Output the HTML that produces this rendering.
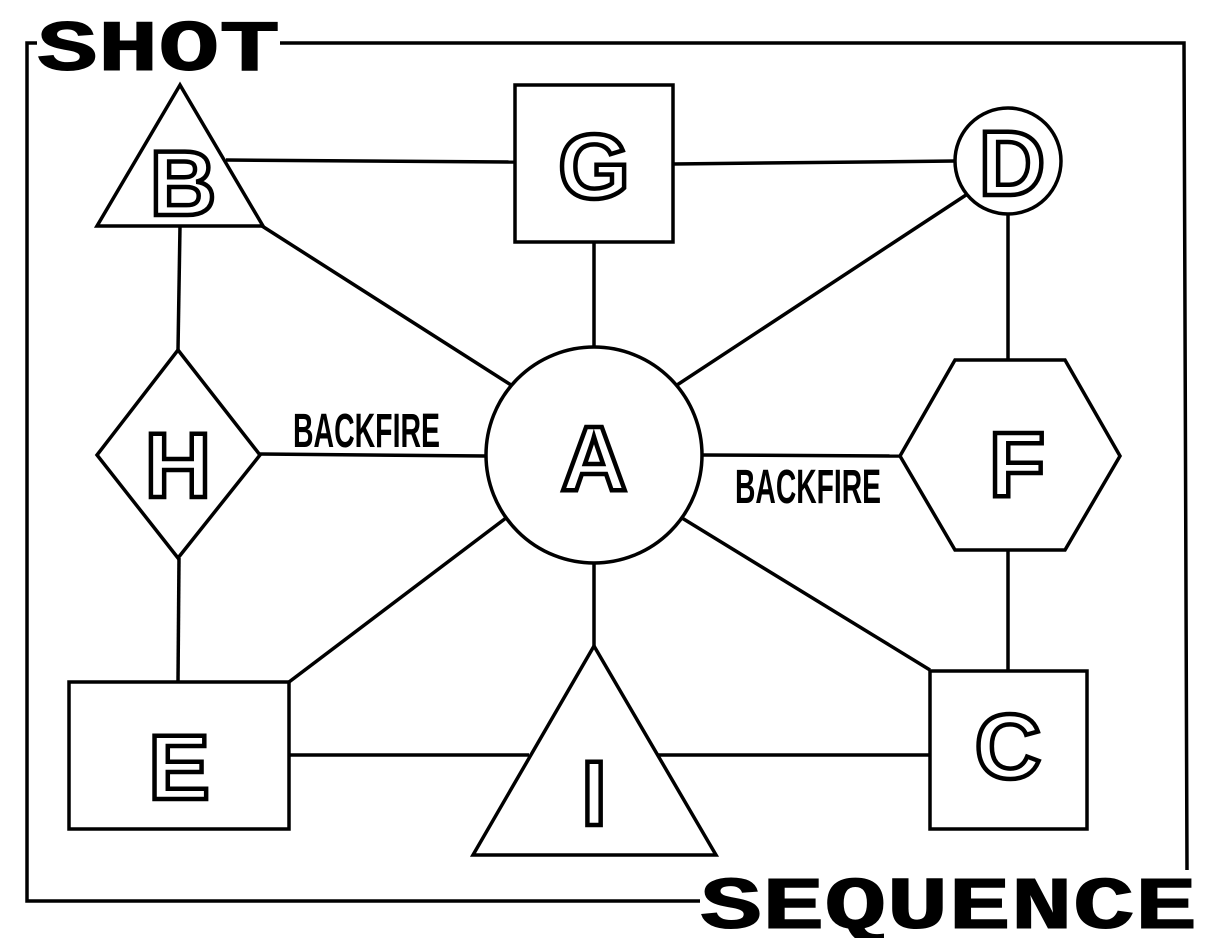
<!DOCTYPE html>
<html><head><meta charset="utf-8"><style>
html,body{margin:0;padding:0;background:#fff;}
svg{display:block}
.l{font-family:"Liberation Sans",sans-serif;font-weight:bold;font-size:92px;fill:#fff;stroke:#000;stroke-width:4.5;text-anchor:middle}
.bf{font-family:"Liberation Sans Narrow","Liberation Sans",sans-serif;font-weight:bold;font-size:48px;fill:#000}
.t{font-family:"Liberation Mono","Liberation Sans",sans-serif;font-weight:bold;fill:#000;stroke:#000;stroke-width:1}
</style></head><body>
<svg width="1214" height="938" viewBox="0 0 1214 938" xmlns="http://www.w3.org/2000/svg">
<g fill="none" stroke="#000" stroke-width="3.5">
<polyline points="280,43 1184,43 1187,870"/>
<polyline points="37,43 27,43 27,901 700,901"/>
<line x1="226" y1="160" x2="515" y2="162"/>
<line x1="673" y1="164" x2="955" y2="161"/>
<line x1="180" y1="226" x2="178" y2="350"/>
<line x1="262" y1="226" x2="511" y2="385"/>
<line x1="594" y1="242" x2="594" y2="348"/>
<line x1="966" y1="195" x2="677" y2="385"/>
<line x1="1008" y1="214" x2="1008" y2="360"/>
<line x1="260" y1="454" x2="486" y2="456"/>
<line x1="702" y1="455" x2="900" y2="456"/>
<line x1="179" y1="558" x2="178" y2="682"/>
<line x1="506" y1="518" x2="289" y2="682"/>
<line x1="594" y1="563" x2="594" y2="646"/>
<line x1="682" y1="518" x2="930" y2="670"/>
<line x1="1008" y1="550" x2="1008" y2="671"/>
<line x1="289" y1="755" x2="529" y2="755"/>
<line x1="657" y1="755" x2="930" y2="755"/>
</g>
<g fill="#fff" stroke="#000" stroke-width="3.5">
<polygon points="180,85 97,226 263,226"/>
<rect x="515" y="85" width="158" height="157"/>
<circle cx="1008" cy="161" r="53"/>
<circle cx="594" cy="455" r="108"/>
<polygon points="178,350 260,455 178,558 97,455"/>
<polygon points="900,456 955,360 1065,360 1120,456 1065,550 955,550"/>
<rect x="69" y="682" width="220" height="147"/>
<polygon points="594,646 473,855 716,855"/>
<rect x="930" y="671" width="157" height="158"/>
</g>
<text class="l" x="183" y="215">B</text>
<text class="l" x="594" y="198">G</text>
<text class="l" x="1012" y="195">D</text>
<text class="l" x="594" y="490">A</text>
<text class="l" x="178" y="497">H</text>
<text class="l" x="1017" y="496">F</text>
<text class="l" x="179" y="799">E</text>
<text class="l" x="594" y="825">I</text>
<text class="l" x="1008" y="778">C</text>
<text class="bf" x="293" y="447" textLength="147" lengthAdjust="spacingAndGlyphs">BACKFIRE</text>
<text class="bf" x="735" y="503" textLength="146" lengthAdjust="spacingAndGlyphs">BACKFIRE</text>
<text class="t" x="37" y="70" font-size="72" textLength="243" lengthAdjust="spacingAndGlyphs">SHOT</text>
<text class="t" x="700" y="928" font-size="74" textLength="497" lengthAdjust="spacingAndGlyphs">SEQUENCE</text>
</svg>
</body></html>
